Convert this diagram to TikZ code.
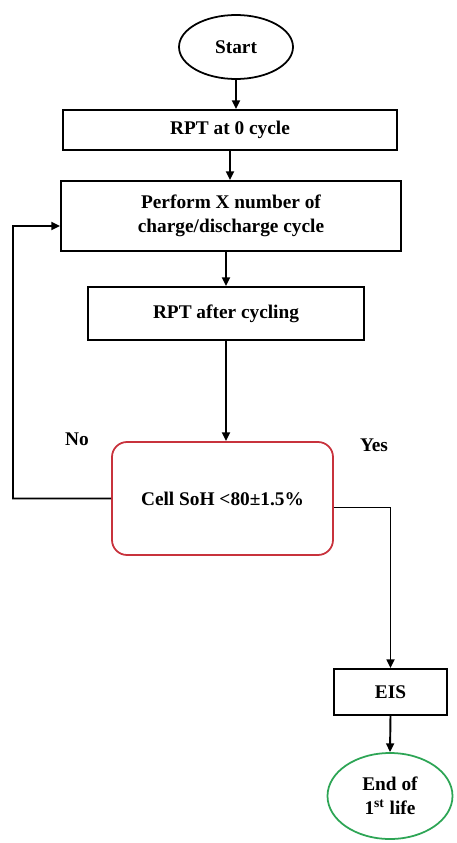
\documentclass[tikz,border=0pt]{standalone}
\usepackage{fontspec}
\setmainfont{Liberation Serif}
\usetikzlibrary{shapes.geometric,arrows.meta}
\definecolor{soh edge}{RGB}{200,50,60}
\definecolor{end edge}{RGB}{45,165,85}
\tikzset{stepbox/.style={draw, line width=1pt, rectangle, align=center, inner sep=0pt},
    oval/.style={draw, line width=1pt, ellipse, align=center, inner sep=0pt},
    arr/.style={line width=1.1pt, -{Triangle[length=5pt,width=4.5pt]}},
    lbl/.style={font=\fontsize{11}{13.5}\selectfont\bfseries}}

\begin{document}
\begin{tikzpicture}[font=\fontsize{11}{13.5}\selectfont\bfseries]
     \useasboundingbox (0,0) rectangle (9.12,-16.86);
     \node[oval, minimum width=2.28cm, minimum height=1.28cm] (start) at (4.72,-0.94) {Start};
     \node[stepbox, minimum width=6.68cm, minimum height=0.8cm] (rpt0) at (4.60,-2.60) {RPT at 0 cycle};
     \node[stepbox, minimum width=6.8cm, minimum height=1.4cm] (perform) at (4.62,-4.32) {Perform X number of\\charge/discharge cycle};
     \node[stepbox, minimum width=5.52cm, minimum height=1.06cm] (rptafter) at (4.52,-6.27) {RPT after cycling};
     \node[stepbox, draw=soh edge, rounded corners=0.3cm, minimum width=4.42cm, minimum height=2.26cm] (soh) at (4.45,-9.97) {Cell SoH <80±1.5\%};
     \node[stepbox, minimum width=2.26cm, minimum height=0.92cm] (eis) at (7.81,-13.84) {EIS};
     \node[oval, draw=end edge, minimum width=2.5cm, minimum height=1.72cm] (endlife) at (7.80,-15.92) {End of\\1\textsuperscript{st} life};
     \coordinate (nocorner) at (0.26,-4.52);
     % main line
     \draw[arr] (start.south) -- (start.south |- rpt0.north);
     \draw[arr] (rpt0.south) -- (rpt0.south |- perform.north);
     \draw[arr] (rptafter.north |- perform.south) -- (rptafter.north);
     \draw[arr] (rptafter.south) -- (rptafter.south |- soh.north);
     % decision
     \draw[arr] (soh.west) -| (nocorner) -- ([yshift=-0.2cm]perform.west);
     \draw[arr] ([yshift=-0.18cm]soh.east) -| (eis.north);
     \draw[arr] (eis.south) -- (endlife.north);
     \node[lbl] (no) at (1.54,-8.78) {No};
     \node[lbl] (yes) at (7.48,-8.9) {Yes};
 \end{tikzpicture}
\end{document}
